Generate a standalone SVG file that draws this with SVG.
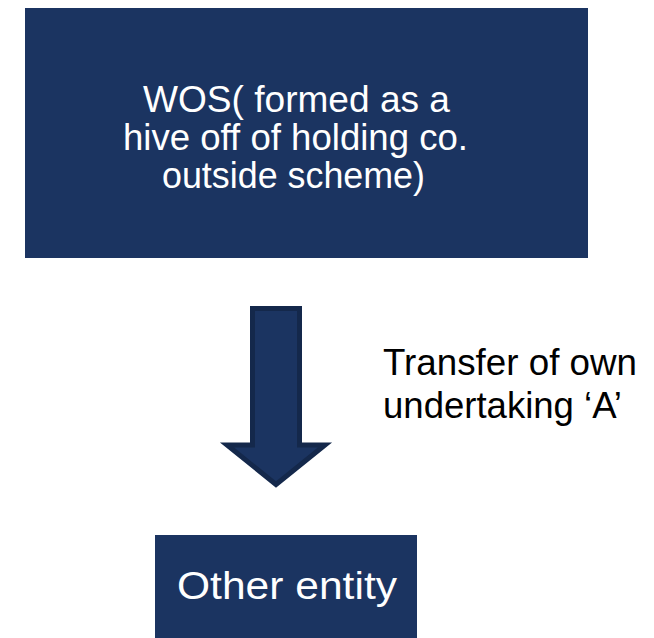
<svg xmlns="http://www.w3.org/2000/svg" width="654" height="638" viewBox="0 0 654 638">
<style>
.box{fill:#1B3461;}
.wt{fill:#FFFFFF;font-family:"Liberation Sans",Arial,sans-serif;text-anchor:middle;}
.bk{fill:#000000;font-family:"Liberation Sans",Arial,sans-serif;}
.arrow{fill:#1B3461;stroke:#14284B;stroke-width:5;stroke-linejoin:miter;}
</style>
<rect width="654" height="638" fill="#FFFFFF"/>
<g id="wos">
<rect class="box" x="25" y="8" width="563" height="250"/>
<text class="wt" font-size="37" x="296.5" y="112" textLength="307" lengthAdjust="spacingAndGlyphs">WOS( formed as a</text>
<text class="wt" font-size="37" x="295.5" y="150" textLength="345" lengthAdjust="spacingAndGlyphs">hive off of holding co.</text>
<text class="wt" font-size="37" x="293.5" y="188" textLength="263" lengthAdjust="spacingAndGlyphs">outside scheme)</text>
</g>
<g id="connectors">
<polygon class="arrow" points="252.5,308.5 299.5,308.5 299.5,445 325,445 276,484.5 227,445 252.5,445"/>
<text class="bk" font-size="37" x="383" y="375" textLength="254" lengthAdjust="spacingAndGlyphs">Transfer of own</text>
<text class="bk" font-size="37" x="383" y="418" textLength="239" lengthAdjust="spacingAndGlyphs">undertaking ‘A’</text>
</g>
<g id="other">
<rect class="box" x="155" y="535" width="262" height="103"/>
<text class="wt" font-size="39" x="287" y="599" textLength="220" lengthAdjust="spacingAndGlyphs">Other entity</text>
</g>
</svg>
